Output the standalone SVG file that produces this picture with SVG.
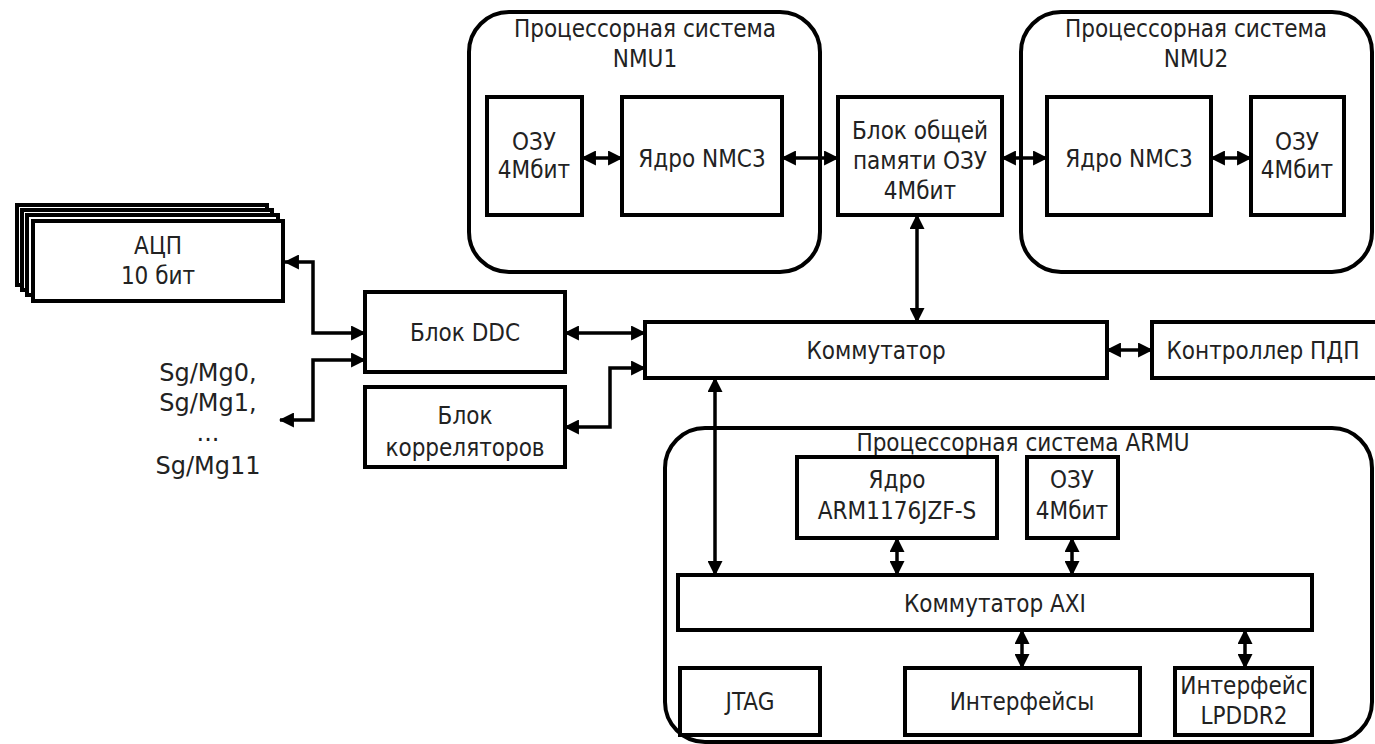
<svg xmlns="http://www.w3.org/2000/svg" width="1375" height="744" viewBox="0 0 1375 744">
<defs>
<marker id="ah" viewBox="0 0 14 14" markerUnits="userSpaceOnUse" markerWidth="15" markerHeight="15" refX="13" refY="7" orient="auto-start-reverse">
<path d="M0,0 L14,7 L0,14 z" fill="#000"/>
</marker>
<style>
.b{fill:#fff;stroke:#000;stroke-width:4}
.g{fill:none;stroke:#000;stroke-width:4}
.t{font-family:"DejaVu Sans Condensed","DejaVu Sans","Liberation Sans",sans-serif;font-stretch:condensed;font-size:24px;fill:#222;text-anchor:middle}
.s{font-family:"DejaVu Sans","Liberation Sans",sans-serif;font-size:24px;fill:#222;text-anchor:middle}
.c{fill:none;stroke:#000;stroke-width:3.5;marker-start:url(#ah);marker-end:url(#ah)}
</style>
</defs>
<rect width="1375" height="744" fill="#fff"/>

<g id="nmu1">
<rect class="g" x="469" y="12" width="351" height="260" rx="40"/>
<text class="t" x="645" y="37">Процессорная система</text>
<text class="t" x="645" y="67">NMU1</text>
</g>
<g id="nmu2">
<rect class="g" x="1021" y="12" width="351" height="260" rx="40"/>
<text class="t" x="1196" y="37">Процессорная система</text>
<text class="t" x="1196" y="67">NMU2</text>
</g>
<g id="armu">
<rect class="g" x="665" y="428" width="707" height="314" rx="40"/>
<text class="t" x="1023" y="451">Процессорная система ARMU</text>
</g>

<g id="adc">
<rect class="b" x="17" y="205" width="250" height="80"/>
<rect class="b" x="22" y="210" width="250" height="80"/>
<rect class="b" x="27" y="215" width="251" height="80"/>
<rect class="b" x="33" y="221" width="250" height="80"/>
<text class="t" x="158" y="254">АЦП</text>
<text class="t" x="158" y="284">10 бит</text>
</g>
<g id="sgmg">
<text class="s" x="208" y="381">Sg/Mg0,</text>
<text class="s" x="208" y="411">Sg/Mg1,</text>
<text class="s" x="208" y="441">...</text>
<text class="s" x="208" y="474">Sg/Mg11</text>
</g>
<g id="ddc">
<rect class="b" x="365" y="292" width="200" height="80"/>
<text class="t" x="465" y="341">Блок DDC</text>
</g>
<g id="corr">
<rect class="b" x="365" y="387" width="200" height="80"/>
<text class="t" x="465" y="424">Блок</text>
<text class="t" x="465" y="456">корреляторов</text>
</g>
<g id="nmu1-ram">
<rect class="b" x="487" y="97" width="95" height="118"/>
<text class="t" x="534" y="150">ОЗУ</text>
<text class="t" x="534" y="178">4Мбит</text>
</g>
<g id="nmu1-core">
<rect class="b" x="622" y="97" width="160" height="118"/>
<text class="t" x="702" y="167">Ядро NMC3</text>
</g>
<g id="shared">
<rect class="b" x="838" y="97" width="164" height="118"/>
<text class="t" x="920" y="139">Блок общей</text>
<text class="t" x="920" y="169">памяти ОЗУ</text>
<text class="t" x="920" y="199">4Мбит</text>
</g>
<g id="nmu2-core">
<rect class="b" x="1047" y="97" width="164" height="118"/>
<text class="t" x="1129" y="167">Ядро NMC3</text>
</g>
<g id="nmu2-ram">
<rect class="b" x="1251" y="97" width="93" height="118"/>
<text class="t" x="1297" y="150">ОЗУ</text>
<text class="t" x="1297" y="178">4Мбит</text>
</g>
<g id="komm">
<rect class="b" x="645" y="322" width="462" height="56"/>
<text class="t" x="876" y="359">Коммутатор</text>
</g>
<g id="dma">
<rect class="b" x="1152" y="322" width="226" height="56"/>
<text class="t" x="1263" y="359">Контроллер ПДП</text>
</g>
<g id="arm-core">
<rect class="b" x="797" y="457" width="200" height="81"/>
<text class="t" x="897" y="488">Ядро</text>
<text class="t" x="897" y="519">ARM1176JZF-S</text>
</g>
<g id="arm-ram">
<rect class="b" x="1027" y="457" width="91" height="81"/>
<text class="t" x="1072" y="488">ОЗУ</text>
<text class="t" x="1072" y="519">4Мбит</text>
</g>
<g id="axi">
<rect class="b" x="678" y="575" width="634" height="55"/>
<text class="t" x="995" y="612">Коммутатор AXI</text>
</g>
<g id="jtag">
<rect class="b" x="680" y="668" width="140" height="67"/>
<text class="t" x="750" y="710">JTAG</text>
</g>
<g id="ifaces">
<rect class="b" x="905" y="668" width="235" height="67"/>
<text class="t" x="1022" y="710">Интерфейсы</text>
</g>
<g id="lpddr">
<rect class="b" x="1175" y="668" width="137" height="67"/>
<text class="t" x="1244" y="694">Интерфейс</text>
<text class="t" x="1244" y="724">LPDDR2</text>
</g>

<g id="connectors">
<path class="c" d="M285 262 H313 V333 H365"/>
<path class="c" d="M280 420 H313 V360 H365"/>
<path class="c" d="M565 333 H645"/>
<path class="c" d="M565 427 H610 V368 H645"/>
<path class="c" d="M582 158 H622"/>
<path class="c" d="M782 158 H838"/>
<path class="c" d="M1002 158 H1047"/>
<path class="c" d="M1211 158 H1251"/>
<path class="c" d="M917 215 V322"/>
<path class="c" d="M1107 350 H1152"/>
<path class="c" d="M715 378 V575"/>
<path class="c" d="M897 538 V575"/>
<path class="c" d="M1072 538 V575"/>
<path class="c" d="M1022 630 V668"/>
<path class="c" d="M1245 630 V668"/>
</g>
</svg>
